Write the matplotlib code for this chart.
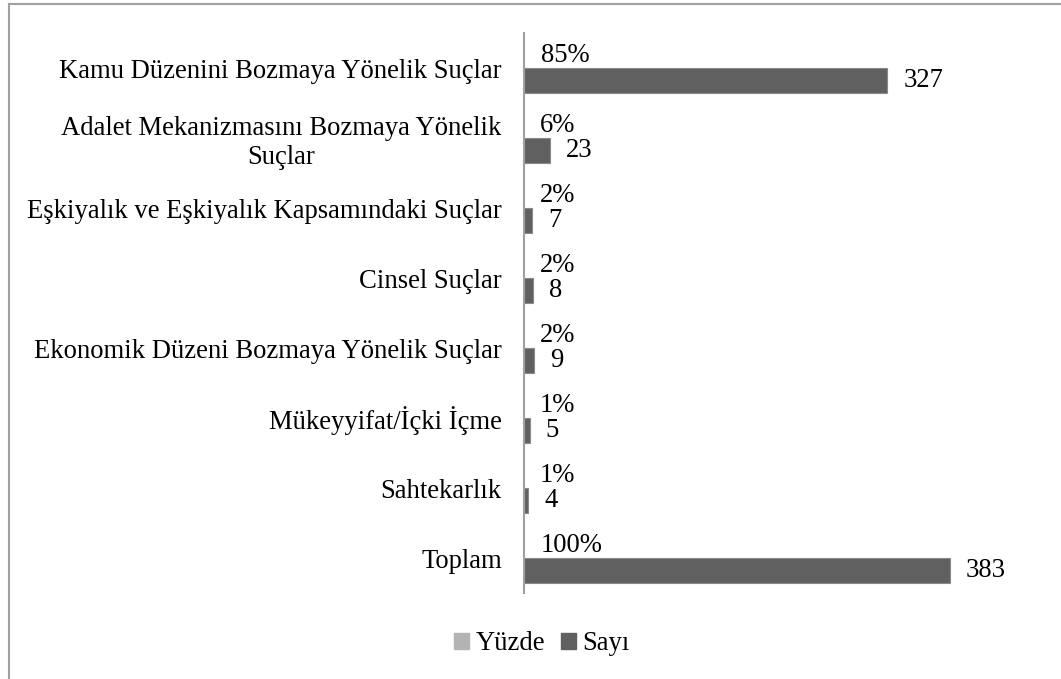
import matplotlib
matplotlib.use("Agg")
import matplotlib.pyplot as plt
from matplotlib.lines import Line2D
from matplotlib.patches import Patch

plt.rcParams['font.family'] = ['Liberation Serif', 'DejaVu Serif']

categories = ['Kamu Düzenini Bozmaya Yönelik Suçlar',
              'Adalet Mekanizmasını Bozmaya Yönelik\nSuçlar',
              'Eşkiyalık ve Eşkiyalık Kapsamındaki Suçlar',
              'Cinsel Suçlar',
              'Ekonomik Düzeni Bozmaya Yönelik Suçlar',
              'Mükeyyifat/İçki İçme',
              'Sahtekarlık',
              'Toplam']
yuzde = [0.85, 0.06, 0.02, 0.02, 0.02, 0.01, 0.01, 1.00]
sayi = [327, 23, 7, 8, 9, 5, 4, 383]

c_yuzde = '#b3b3b3'
c_sayi = '#606060'
fs = 19.2

fig = plt.figure(figsize=(10.61, 6.79), dpi=100)
ax = fig.add_axes([524/1061, 1-593/679, 500/1061, 560/679])

y = list(range(len(categories)))
h = 0.357
ax.barh([v - h/2 for v in y], yuzde, height=h, color=c_yuzde)
ax.barh([v + h/2 for v in y], sayi, height=h, color=c_sayi, edgecolor='#8a8a8a', linewidth=0.8)

for i in y:
    ax.annotate(f'{yuzde[i]:.0%}', (yuzde[i], i - h/2), xytext=(16, 0), textcoords='offset pixels',
                va='center', ha='left', fontsize=fs)
    ax.annotate(str(sayi[i]), (sayi[i], i + h/2), xytext=(16, 0), textcoords='offset pixels',
                va='center', ha='left', fontsize=fs)

ax.set_xlim(0, 450)
ax.set_ylim(len(categories) - 0.5, -0.5)
ax.set_yticks(y)
ax.set_yticklabels(categories, fontsize=fs, multialignment='center')
ax.tick_params(axis='y', length=0, pad=16)
ax.set_xticks([])
for s in ['top', 'right', 'bottom']:
    ax.spines[s].set_visible(False)
ax.spines['left'].set_color('#a0a0a0')
ax.spines['left'].set_linewidth(1.5)

handles = [Patch(color=c_yuzde, label='Yüzde'), Patch(color=c_sayi, label='Sayı')]
fig.legend(handles=handles, loc='center', bbox_to_anchor=(542/1061, 1-644/679), ncol=2,
           frameon=False, fontsize=fs, handlelength=0.55, handleheight=0.55,
           handletextpad=0.25, columnspacing=0.6)

# chart border (left and top edges visible)
fig.add_artist(Line2D([8.5/1061, 8.5/1061], [0, 1-3.5/679], transform=fig.transFigure, color='#a0a0a0', lw=1.5))
fig.add_artist(Line2D([8.5/1061, 1], [1-3.5/679, 1-3.5/679], transform=fig.transFigure, color='#a0a0a0', lw=1.5))

fig.savefig('out.png', dpi=100)
